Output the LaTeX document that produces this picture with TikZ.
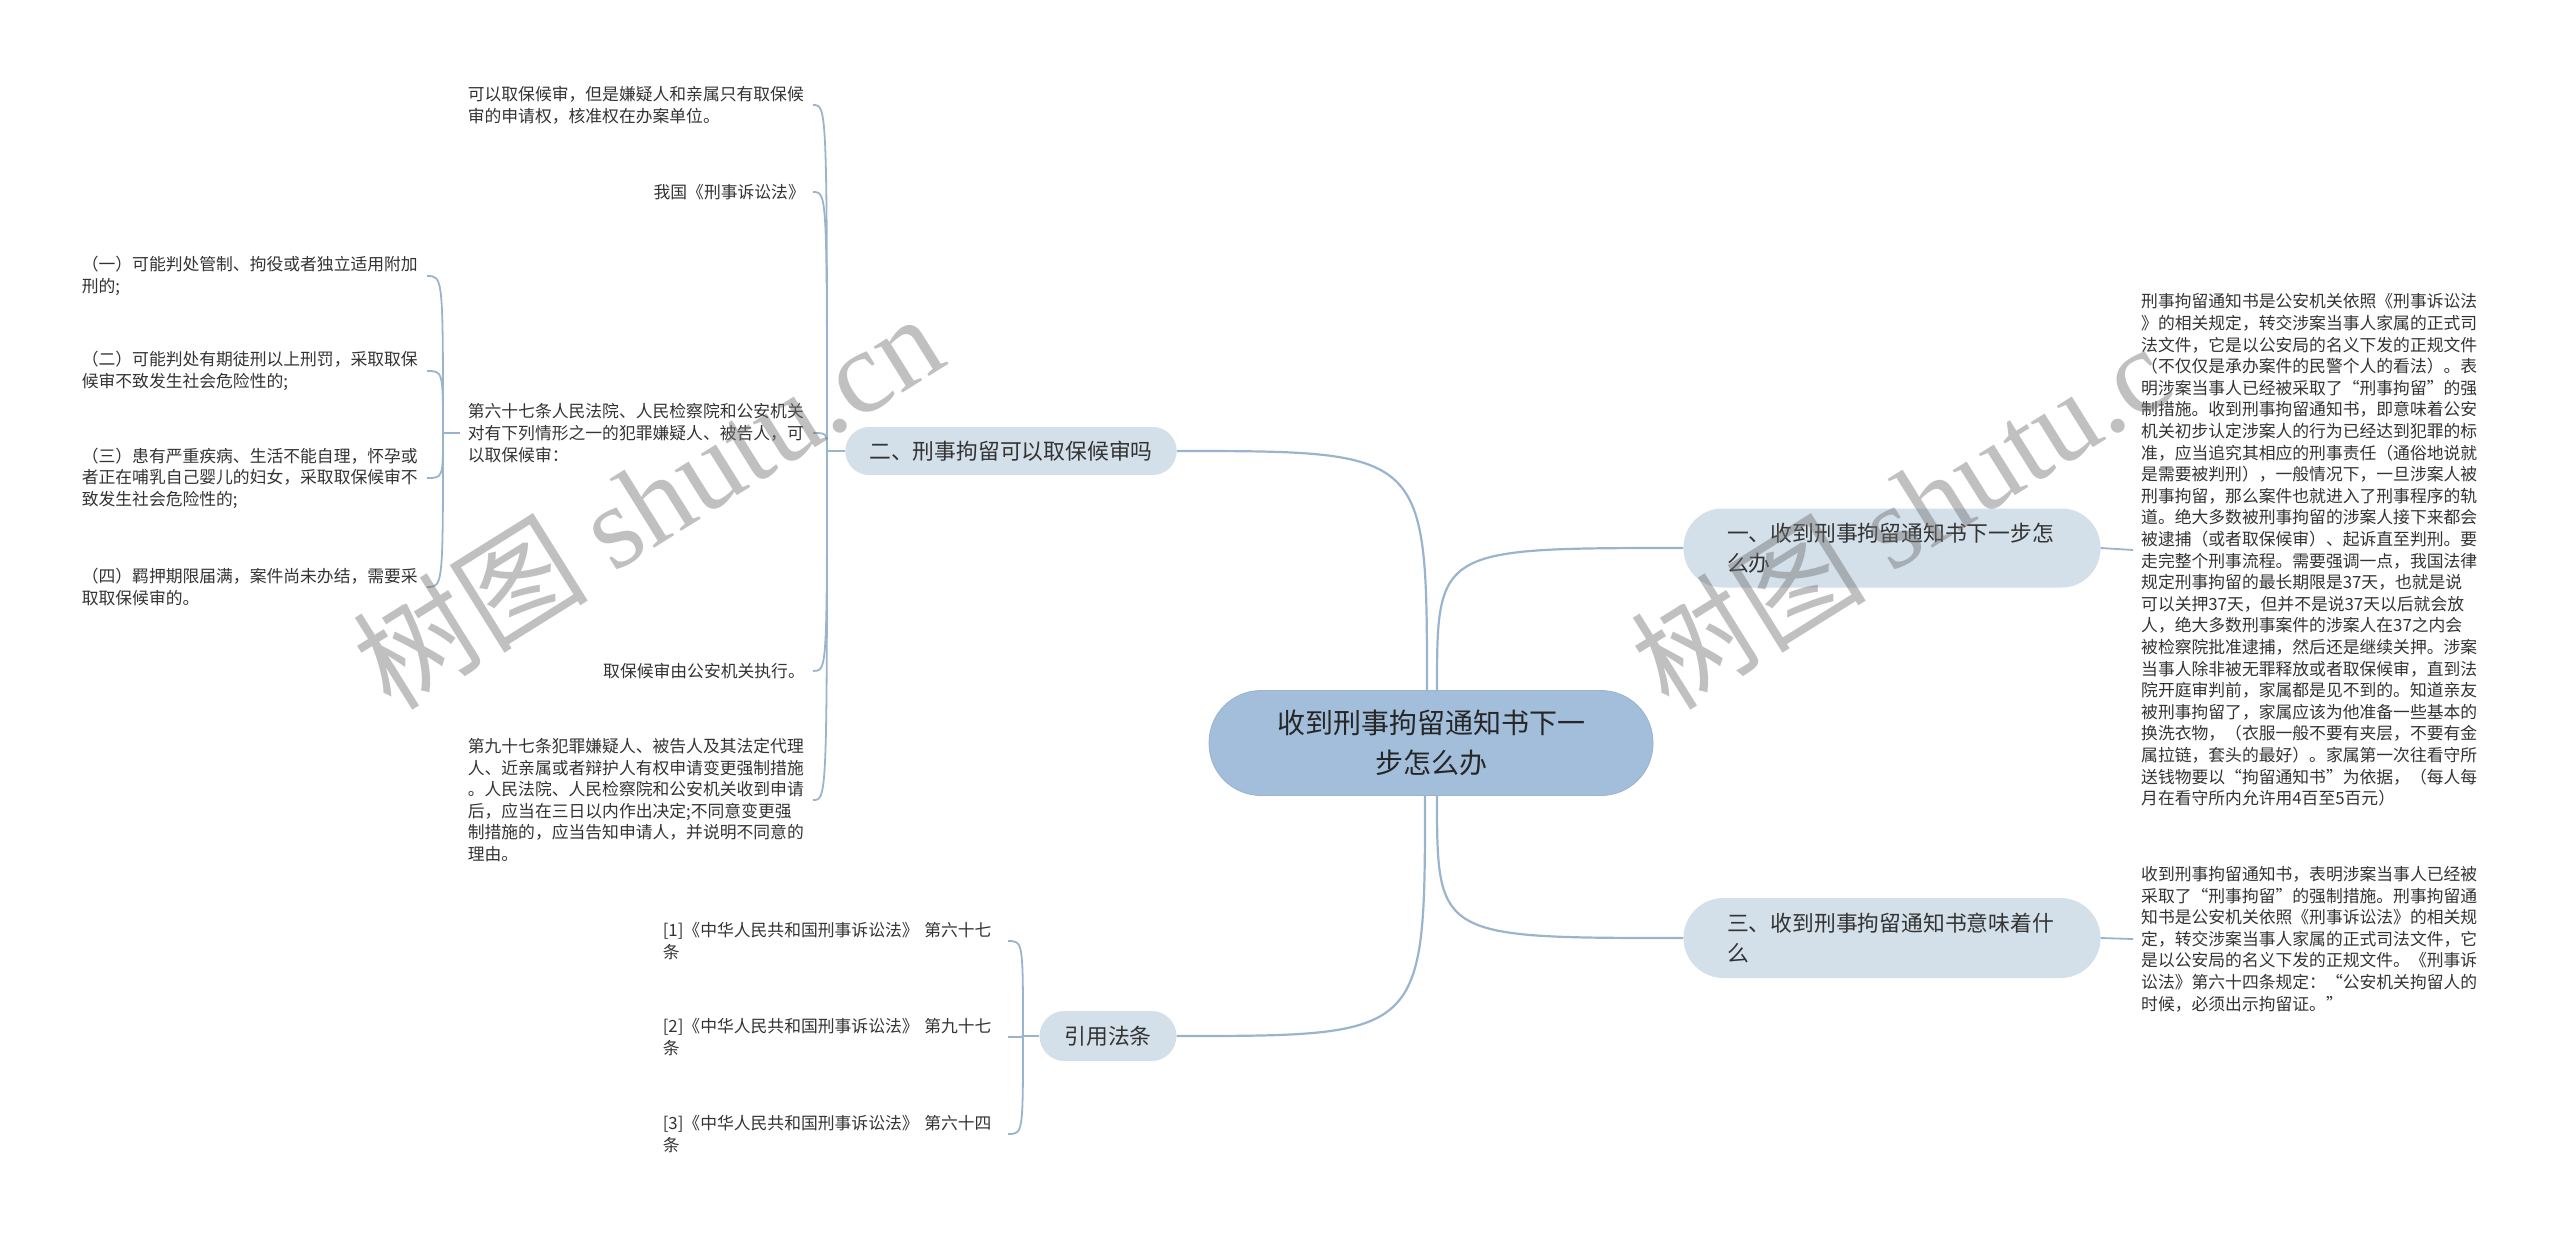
\documentclass[tikz,border=0pt]{standalone}
\usepackage{fontspec}
\setmainfont{Noto Sans CJK SC}
\newfontfamily\wmfont{Liberation Serif}
\usetikzlibrary{calc}

\definecolor{linec}{HTML}{9AB4CD}
\definecolor{rootc}{HTML}{A2BEDA}
\definecolor{subc}{HTML}{D3DFE9}
\definecolor{txtc}{HTML}{333333}

\begin{document}
\begin{tikzpicture}[x=1pt, y=-1pt,
  link/.style={draw=linec, line width=2.2pt},
  twig/.style={draw=linec, line width=1.8pt},
  root/.style={fill=rootc, draw=linec, line width=0.8pt, align=center,
    minimum width=444pt, minimum height=105pt, rounded corners=52pt,
    text=black!85, font=\fontsize{28}{40}\selectfont},
  sub/.style={fill=subc, text=txtc, inner xsep=24pt, inner ysep=0pt,
    font=\fontsize{21.8}{30}\selectfont},
  leaf/.style={text=txtc, inner xsep=8pt, inner ysep=0pt, align=left,
    font=\fontsize{16.8}{21.6}\selectfont},
  leafw/.style={leaf, text width=337pt},
  wm/.style={text=black!55, opacity=0.45, rotate=32,
    font=\fontsize{118}{118}\selectfont}]
  \useasboundingbox (0,0) rectangle (2560,1235);

  % 中心与一级分支
  \node[root] (root) at (1431,743) {收到刑事拘留通知书下一\\步怎么办};
  \node[sub, minimum width=331pt, minimum height=48pt, rounded corners=24pt]
    (b2) at (1011,451) {二、刑事拘留可以取保候审吗};
  \node[sub, minimum width=137pt, minimum height=50pt, rounded corners=25pt]
    (b4) at (1108,1036) {引用法条};
  \node[sub, align=left, text width=330pt, minimum width=417pt,
    minimum height=79pt, rounded corners=39pt]
    (b1) at (1892,548) {一、收到刑事拘留通知书下一步怎\\么办};
  \node[sub, align=left, text width=330pt, minimum width=417pt,
    minimum height=80pt, rounded corners=40pt]
    (b3) at (1892,938) {三、收到刑事拘留通知书意味着什\\么};

  \coordinate (r2) at ([xshift=-4pt]root.north);
  \coordinate (r1) at ([xshift=6pt]root.north);
  \coordinate (r3) at ([xshift=6pt]root.south);
  \coordinate (r4) at ([xshift=-6pt]root.south);
  \draw[link] (r2) .. controls (r2 |- b2.east) .. (b2.east);
  \draw[link] (r1) .. controls (r1 |- b1.west) .. (b1.west);
  \draw[link] (r3) .. controls (r3 |- b3.west) .. (b3.west);
  \draw[link] (r4) .. controls (r4 |- b4.east) .. (b4.east);

  % 二、的子节点
  \node[leafw, anchor=east] (c1) at (813,105)
    {可以取保候审，但是嫌疑人和亲属只有取保候\\审的申请权，核准权在办案单位。};
  \node[leaf, anchor=east] (c2) at (813,192) {我国《刑事诉讼法》};
  \node[leafw, anchor=east] (c3) at (813,433)
    {第六十七条人民法院、人民检察院和公安机关\\对有下列情形之一的犯罪嫌疑人、被告人，可\\以取保候审：};
  \node[leaf, anchor=east] (c4) at (813,671) {取保候审由公安机关执行。};
  \node[leafw, anchor=east] (c5) at (813,800)
    {第九十七条犯罪嫌疑人、被告人及其法定代理\\人、近亲属或者辩护人有权申请变更强制措施\\。人民法院、人民检察院和公安机关收到申请\\后，应当在三日以内作出决定;不同意变更强\\制措施的，应当告知申请人，并说明不同意的\\理由。};
  \coordinate (j2) at (827,451);
  \draw[twig] (b2.west) -- (j2);
  \foreach \c in {c1,c2,c3,c4,c5}
    \draw[twig] (j2) .. controls (j2 |- \c.east) .. (\c.east);

  % 第六十七条的四种情形
  \node[leafw, anchor=east] (d1) at (427,276)
    {（一）可能判处管制、拘役或者独立适用附加\\刑的;};
  \node[leafw, anchor=east] (d2) at (427,371)
    {（二）可能判处有期徒刑以上刑罚，采取取保\\候审不致发生社会危险性的;};
  \node[leafw, anchor=east] (d3) at (427,478)
    {（三）患有严重疾病、生活不能自理，怀孕或\\者正在哺乳自己婴儿的妇女，采取取保候审不\\致发生社会危险性的;};
  \node[leafw, anchor=east] (d4) at (427,587)
    {（四）羁押期限届满，案件尚未办结，需要采\\取取保候审的。};
  \coordinate (j3) at (443,433);
  \draw[twig] (c3.west) -- (j3);
  \foreach \d in {d1,d2,d3,d4}
    \draw[twig] (j3) .. controls (j3 |- \d.east) .. (\d.east);

  % 引用法条
  \node[leafw, anchor=east] (e1) at (1008,941)
    {[1]《中华人民共和国刑事诉讼法》 第六十七\\条};
  \node[leafw, anchor=east] (e2) at (1008,1037)
    {[2]《中华人民共和国刑事诉讼法》 第九十七\\条};
  \node[leafw, anchor=east] (e3) at (1008,1134)
    {[3]《中华人民共和国刑事诉讼法》 第六十四\\条};
  \coordinate (j4) at (1023,1036);
  \draw[twig] (b4.west) -- (j4);
  \foreach \e in {e1,e2,e3}
    \draw[twig] (j4) .. controls (j4 |- \e.east) .. (\e.east);

  % 右侧说明
  \node[leafw, anchor=west] (f1) at (2133,550)
    {刑事拘留通知书是公安机关依照《刑事诉讼法\\》的相关规定，转交涉案当事人家属的正式司\\法文件，它是以公安局的名义下发的正规文件\\（不仅仅是承办案件的民警个人的看法）。表\\明涉案当事人已经被采取了“刑事拘留”的强\\制措施。收到刑事拘留通知书，即意味着公安\\机关初步认定涉案人的行为已经达到犯罪的标\\准，应当追究其相应的刑事责任（通俗地说就\\是需要被判刑），一般情况下，一旦涉案人被\\刑事拘留，那么案件也就进入了刑事程序的轨\\道。绝大多数被刑事拘留的涉案人接下来都会\\被逮捕（或者取保候审）、起诉直至判刑。要\\走完整个刑事流程。需要强调一点，我国法律\\规定刑事拘留的最长期限是37天，也就是说\\可以关押37天，但并不是说37天以后就会放\\人，绝大多数刑事案件的涉案人在37之内会\\被检察院批准逮捕，然后还是继续关押。涉案\\当事人除非被无罪释放或者取保候审，直到法\\院开庭审判前，家属都是见不到的。知道亲友\\被刑事拘留了，家属应该为他准备一些基本的\\换洗衣物，（衣服一般不要有夹层，不要有金\\属拉链，套头的最好）。家属第一次往看守所\\送钱物要以“拘留通知书”为依据，（每人每\\月在看守所内允许用4百至5百元）};
  \node[leafw, anchor=west] (f3) at (2133,939)
    {收到刑事拘留通知书，表明涉案当事人已经被\\采取了“刑事拘留”的强制措施。刑事拘留通\\知书是公安机关依照《刑事诉讼法》的相关规\\定，转交涉案当事人家属的正式司法文件，它\\是以公安局的名义下发的正规文件。《刑事诉\\讼法》第六十四条规定：“公安机关拘留人的\\时候，必须出示拘留证。”};
  \draw[twig] (b1.east) -- (f1.west);
  \draw[twig] (b3.east) -- (f3.west);

  % 水印
  \node[wm] (wm1) at (647,500) {树图 {\wmfont shutu.cn}};
  \node[wm] (wm2) at (1925,500) {树图 {\wmfont shutu.c\phantom{n}}};
\end{tikzpicture}
\end{document}
